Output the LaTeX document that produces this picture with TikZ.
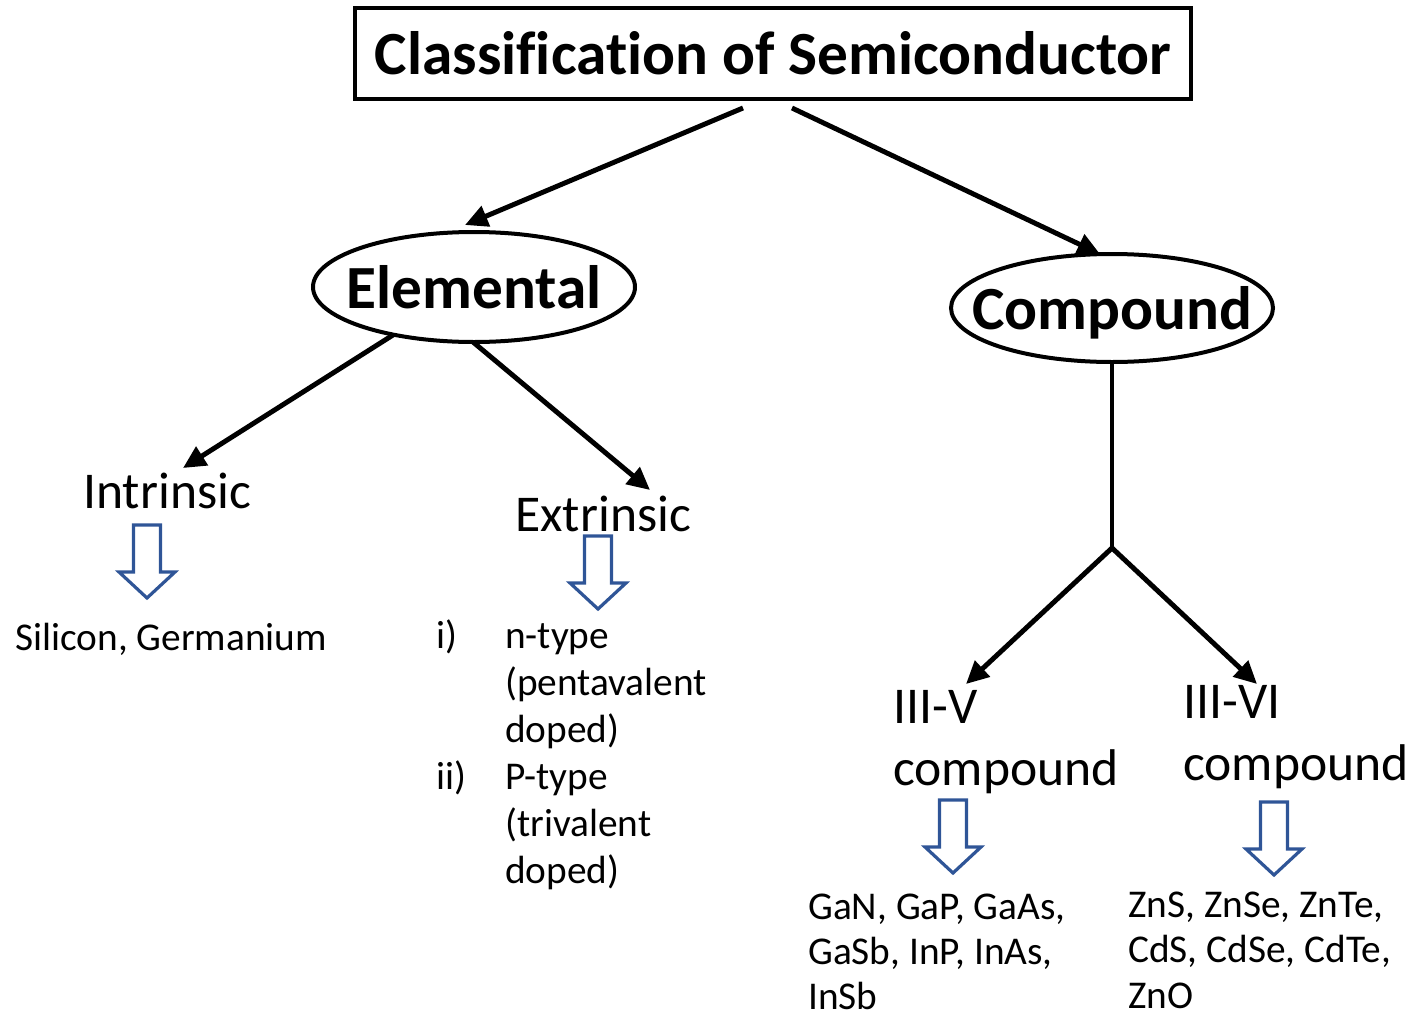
\documentclass[tikz,border=0pt]{standalone}
\usepackage{fontspec}
\setmainfont{Carlito}[Ligatures=CommonOff]
\usetikzlibrary{arrows.meta,shapes.geometric}
\definecolor{barrow}{RGB}{47,85,151}
\begin{document}
\begin{tikzpicture}[x=0.75pt,y=-0.75pt,
  conn/.style={line width=3.7pt,-{Triangle[length=17pt,width=16pt]}},
  plainline/.style={line width=3.7pt},
  oval/.style={ellipse,draw,line width=3pt,inner sep=0pt},
  ovaltext/.style={font=\fontsize{46}{55}\selectfont\bfseries,inner sep=0pt,text depth=0pt},
  big/.style={anchor=base west,inner sep=0pt,font=\fontsize{38.7}{46}\selectfont},
  small/.style={anchor=base west,inner sep=0pt,font=\fontsize{29.5}{35}\selectfont},
  hollow/.pic={\draw[barrow,line width=2.4pt,line join=miter] (-13.5,0)--(13.5,0)--(13.5,47)--(28,47)--(0,73)--(-28,47)--(-13.5,47)--cycle;}
]
\useasboundingbox (0,0) rectangle (1417,1017);

% title
\node[draw,line width=2.6pt,minimum width=627pt,minimum height=68pt,inner sep=0pt,
      font=\fontsize{46}{55}\selectfont\bfseries] (title) at (773,53.5) {Classification of Semiconductor};

% ovals
\node[oval,minimum width=241.5pt,minimum height=82.5pt,
      label={[ovaltext]center:Elemental}] (elem) at (474,287) {};
\node[oval,minimum width=241.5pt,minimum height=81pt,
      label={[ovaltext]center:Compound}] (comp) at (1112,308) {};

% arrow end points
\coordinate (a1s) at (743,108); \coordinate (a1e) at (465,225);
\coordinate (a2s) at (792,108); \coordinate (a2e) at (1100,254);
\coordinate (a3s) at (393,335); \coordinate (a3e) at (183,468);
\coordinate (a4s) at (473,342); \coordinate (a4e) at (650,490);
\coordinate (c0) at (1112,362); \coordinate (cj) at (1112,548);
\coordinate (a5e) at (966,684); \coordinate (a6e) at (1257,684);

\draw[conn] (a1s) -- (a1e);
\draw[conn] (a2s) -- (a2e);
\draw[conn] (a3s) -- (a3e);
\draw[conn] (a4s) -- (a4e);
\draw[plainline] (c0) -- (cj);
\draw[conn] (cj) -- (a5e);
\draw[conn] (cj) -- (a6e);

% labels
\node[big] (intr) at (83,508) {Intrinsic};
\node[big] (extr) at (515,531) {Extrinsic};
\node[big] (iiiv) at (893,723) {III-V};
\node[big] (iiivc) at (893,785) {compound};
\node[big] (iiivi) at (1183,718) {III-VI};
\node[big] (iiivic) at (1183,780) {compound};

% hollow arrows
\pic at (147,525) {hollow};
\pic at (598,536) {hollow};
\pic at (953,800) {hollow};
\pic at (1274,802) {hollow};

% small texts
\node[small] (si) at (15,650) {Silicon, Germanium};
\node[small] (li1) at (436,648) {i)};
\node[small] (li2) at (436,789) {ii)};
\node[small] (l1) at (505,648) {n-type};
\node[small] (l2) at (505,695) {(pentavalent};
\node[small] (l3) at (505,742) {doped)};
\node[small] (l4) at (505,789) {P-type};
\node[small] (l5) at (505,836) {(trivalent};
\node[small] (l6) at (505,883) {doped)};
\node[small] (g1) at (808,919) {GaN, GaP, GaAs,};
\node[small] (g2) at (808,964) {GaSb, InP, InAs,};
\node[small] (g3) at (808,1009) {InSb};
\node[small] (z1) at (1128,917) {ZnS, ZnSe, ZnTe,};
\node[small] (z2) at (1128,962) {CdS, CdSe, CdTe,};
\node[small] (z3) at (1128,1008) {ZnO};
\end{tikzpicture}
\end{document}
